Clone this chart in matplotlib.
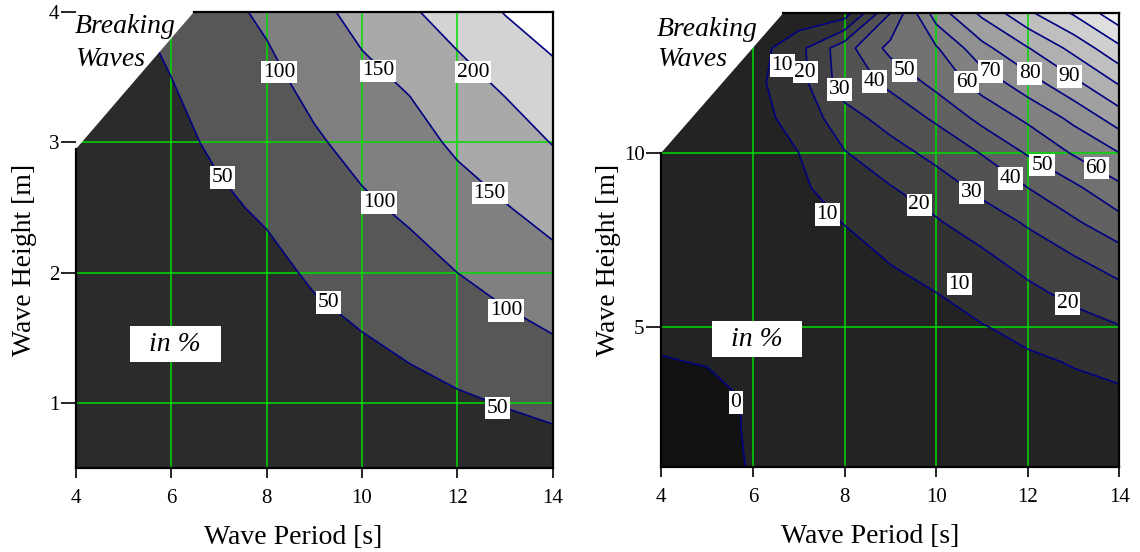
import numpy as np
import matplotlib.pyplot as plt

plt.rcParams['font.family'] = ['Liberation Serif', 'DejaVu Serif']
plt.rcParams['mathtext.fontset'] = 'stix'

# ---- left chart: heave, values in %
period_left = [4, 5, 6, 7, 8, 9, 10, 11, 12, 13, 14]
height_left = [0.5, 1.0, 1.5, 2.0, 2.5, 3.0, 3.5, 4.0]
z_left = [
    [4, 5, 6, 8, 10, 12, 14, 17, 21, 25, 28],
    [8, 10, 12, 16, 20, 25, 30, 37, 44, 52, 60.5],
    [12, 15, 19, 25, 31, 39, 48, 58.5, 72, 85.5, 98],
    [16, 20, 26, 34, 40, 55, 70, 83, 100, 116, 133],
    [21, 26, 33, 44, 55, 74, 92.5, 108, 129, 147.5, 167],
    [26, 32, 41, 56, 71, 94, 115, 132.5, 158, 179, 201.5],
    [31, 38, 50, 72, 89, 115, 140, 157, 188, 209, 238],
    [36, 45, 60, 87, 108, 138, 164, 195, 217, 252, 275],
]
levels_left = [50, 100, 150, 200, 250]
breaking_left_T = [4.0, 6.47]
breaking_left_H = [2.95, 4.0]
labels_left_T = [8.26, 10.34, 12.34, 7.07, 10.36, 12.68, 9.29, 13.03, 12.85]
labels_left_H = [3.54, 3.55, 3.54, 2.73, 2.54, 2.61, 1.77, 1.71, 0.96]
labels_left_val = [100, 150, 200, 50, 100, 150, 50, 100, 50]

# ---- right chart
period_right = [4, 5, 6, 7, 8, 9, 10, 11, 12, 13, 14]
height_right = [1, 2, 3, 4, 5, 6, 7, 8, 9, 10, 11, 12, 13, 14]
z_right = [
    [-2, -1.5, 0.3, 0.5, 0.5, 0.7, 1, 1.5, 2, 2.5, 3],
    [-1.5, -1.2, 0.4, 1, 1.5, 2, 2.5, 3.5, 4.5, 5, 6],
    [-1.0, -1.0, 0.4, 1.5, 2.5, 3, 4, 5.5, 6.5, 7.5, 8.5],
    [-0.2, 0.15, 1.2, 2.5, 3.5, 4.5, 5.5, 7.5, 8.5, 10.5, 12.5],
    [0.8, 0.8, 1.8, 3.5, 4.5, 6, 7.5, 9.5, 12.5, 15.5, 19.5],
    [1.2, 1.5, 2.5, 4.5, 6, 8, 10, 14, 17.5, 23, 27],
    [1.6, 2, 3, 5.5, 7.5, 10.5, 14.5, 18, 24.5, 29.5, 35.5],
    [2, 2.5, 4, 7, 10.2, 15, 19, 25, 31, 38.5, 46.5],
    [2.5, 3, 5, 8.5, 14, 19.5, 25, 32.5, 40, 48, 58],
    [3, 3.5, 6, 10, 19.5, 26, 33, 40.5, 51, 61, 70],
    [3, 4, 7, 13, 26, 34, 41.5, 53, 62, 72.5, 85],
    [3, 4, 7.5, 16, 35, 42, 53, 64, 75.5, 87.5, 101],
    [3, 4, 5, 17, 36, 53, 59, 77, 89.5, 103, 118],
    [3, 4, 5, 3, 5, 40, 75, 92, 108, 121, 137],
]
levels_right = [0, 10, 20, 30, 40, 50, 60, 70, 80, 90, 100, 110, 120, 130]
breaking_right_T = [4.0, 6.66]
breaking_right_H = [10.0, 14.0]
labels_right_T = [6.64, 7.14, 7.89, 8.65, 9.3, 10.66, 11.19, 12.04, 12.91,
                  7.62, 9.63, 10.78, 11.62, 12.31, 13.49, 10.5, 12.87, 5.63]
labels_right_H = [12.5, 12.31, 11.81, 12.04, 12.36, 12.03, 12.33, 12.28, 12.19,
                  8.24, 8.51, 8.87, 9.27, 9.65, 9.56, 6.24, 5.68, 2.85]
labels_right_val = [10, 20, 30, 40, 50, 60, 70, 80, 90,
                    10, 20, 30, 40, 50, 60, 10, 20, 0]

GRID_GREEN = '#00dd00'
LINE_BLUE = '#000080'


def draw_panel(ax, T, H, Z, levels, fill_colors, lo, hi, brk_T, brk_H,
               lab_T, lab_H, lab_val, yticks, ylim, inpct_xy, brk_text_xy):
    Z = np.asarray(Z, dtype=float)
    ax.contourf(T, H, Z, levels=[lo] + levels + [hi], colors=fill_colors, zorder=1)
    ax.contour(T, H, Z, levels=levels, colors=LINE_BLUE, linewidths=1.2, zorder=2)

    ax.set_xlim(4, 14)
    ax.set_ylim(*ylim)
    ax.set_xticks([4, 6, 8, 10, 12, 14])
    ax.set_yticks(yticks)
    ax.set_axisbelow('line')
    ax.grid(True, color=GRID_GREEN, linewidth=1.1)

    # breaking waves limit, area above is blank
    ax.fill([brk_T[0], brk_T[1], brk_T[1], 3.5, 3.5],
            [brk_H[0], brk_H[1], ylim[1] + 1, ylim[1] + 1, brk_H[0]],
            color='white', lw=0, zorder=3)
    ax.spines['left'].set_bounds(ylim[0], brk_H[0])
    ax.spines['top'].set_bounds(brk_T[1], 14)
    for s in ax.spines.values():
        s.set_linewidth(1.6)
        s.set_zorder(3.5)

    for x, y, v in zip(lab_T, lab_H, lab_val):
        ax.text(x, y, str(v), fontsize=15.5, ha='center', va='center', zorder=5,
                bbox=dict(boxstyle='square,pad=0.08', fc='white', ec='none'))

    ax.text(inpct_xy[0], inpct_xy[1], '  in %  ', fontsize=20, style='italic',
            ha='center', va='center', zorder=5,
            bbox=dict(boxstyle='square,pad=0.2', fc='white', ec='none'))
    ax.text(brk_text_xy[0], brk_text_xy[1], 'Breaking', fontsize=20, style='italic',
            ha='left', va='baseline', zorder=5)
    ax.text(brk_text_xy[0], brk_text_xy[2], 'Waves', fontsize=20, style='italic',
            ha='left', va='baseline', zorder=5)

    ax.tick_params(axis='x', direction='out', length=7, width=1.2, pad=8, labelsize=15)
    ax.tick_params(axis='y', direction='out', length=11, width=1.2, pad=1, labelsize=15)
    ax.set_xlabel('Wave Period [s]', fontsize=20, labelpad=10)
    ax.set_ylabel('Wave Height [m]', fontsize=20, labelpad=6)
    ax.xaxis.set_label_coords(0.455, -0.125)


fig = plt.figure(figsize=(11.4, 5.52), dpi=100)
ax1 = fig.add_axes([0.0667, 0.152, 0.418, 0.826])
ax2 = fig.add_axes([0.580, 0.154, 0.402, 0.822])

fill_left = ['#2b2b2b', '#575757', '#808080', '#a9a9a9', '#d3d3d3', '#ffffff']
draw_panel(ax1, period_left, height_left, z_left, levels_left, fill_left, -100, 1000,
           breaking_left_T, breaking_left_H, labels_left_T, labels_left_H, labels_left_val,
           [1, 2, 3, 4], (0.5, 4.0), (6.08, 1.45), (3.98, 3.84, 3.59))
ax1.yaxis.set_label_coords(-0.082, 0.457)

n_bands = len(levels_right) + 1
grays = np.linspace(0x23, 0xef, n_bands - 1)
fill_right = ['#111111'] + ['#%02x%02x%02x' % (int(g), int(g), int(g)) for g in grays]
draw_panel(ax2, period_right, height_right, z_right, levels_right, fill_right, -100, 1000,
           breaking_right_T, breaking_right_H, labels_right_T, labels_right_H, labels_right_val,
           [5, 10], (1.0, 14.0), (6.09, 4.66), (3.91, 13.36, 12.5))
ax2.yaxis.set_label_coords(-0.087, 0.457)

fig.savefig('out.png', dpi=100)
